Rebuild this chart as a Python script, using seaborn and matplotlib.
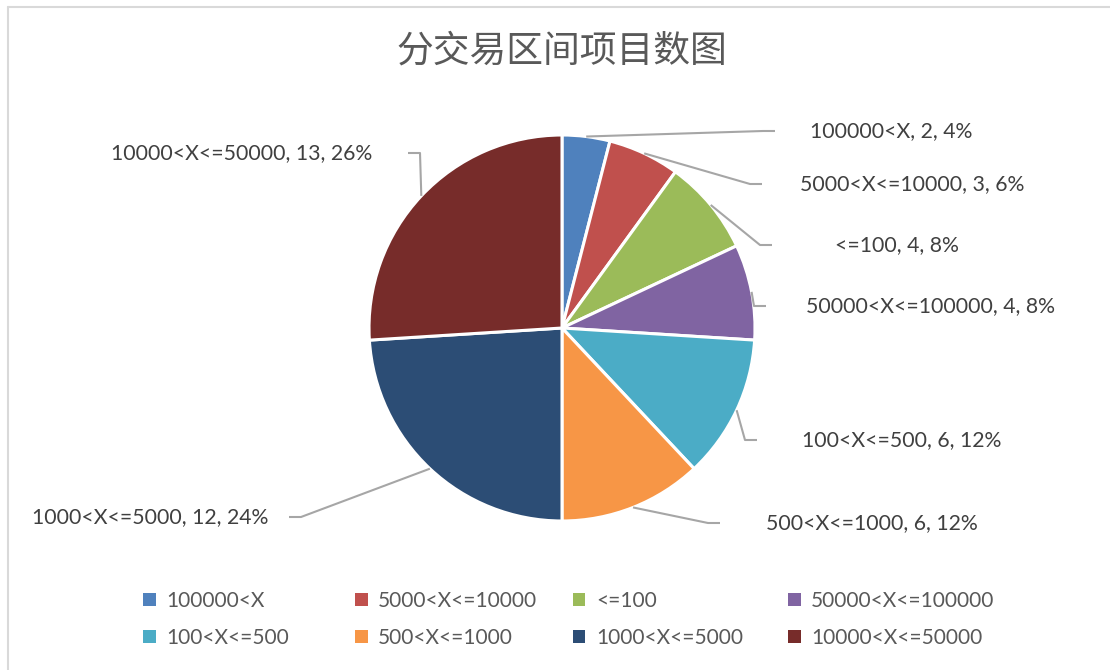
import matplotlib.pyplot as plt
import seaborn as sns
import numpy as np
from matplotlib.patches import Patch
from matplotlib.lines import Line2D

sns.set_theme(style="white")
plt.rcParams['font.family'] = ['Lato', 'Noto Sans CJK SC', 'DejaVu Sans']

# 데이터
categories = ['100000<X', '5000<X<=10000', '<=100', '50000<X<=100000',
              '100<X<=500', '500<X<=1000', '1000<X<=5000', '10000<X<=50000']
counts = [2, 3, 4, 4, 6, 6, 12, 13]
colors = ['#4F81BD', '#C0504D', '#9BBB59', '#8064A2',
          '#4BACC6', '#F79646', '#2C4D75', '#772C2A']
title = '分交易区间项目数图'

W, H = 1110, 670
def py(y):
    return H - y

# 라벨 위치 (픽셀 기준): 텍스트 x, y, 정렬, 지시선 끝 x
label_pos = [(810, 131, 'left', 775), (800, 184, 'left', 762),
             (835, 245, 'left', 772), (806, 306, 'left', 766),
             (802, 440, 'left', 757), (766, 523, 'left', 720),
             (268, 517, 'right', 289), (372, 153, 'right', 408)]

fig = plt.figure(figsize=(W / 100, H / 100), dpi=100)
ax = fig.add_axes([0, 0, 1, 1])
ax.set_aspect('equal')
ax.axis('off')

cx, cy, r = 562, py(328), 193
wedges, _ = ax.pie(counts, colors=colors, startangle=90, counterclock=False,
                   center=(cx, cy), radius=r,
                   wedgeprops=dict(edgecolor='white', linewidth=2.2))
ax.set_xlim(0, W)
ax.set_ylim(0, H)

total = sum(counts)
for w, cat, n, (tx, ty, ha, lx) in zip(wedges, categories, counts, label_pos):
    mid = np.deg2rad((w.theta1 + w.theta2) / 2)
    x0 = cx + r * np.cos(mid)
    y0 = cy + r * np.sin(mid)
    ex = lx - 12 if ha == 'left' else lx + 12
    ax.plot([x0, ex, lx], [y0, py(ty), py(ty)], color='#A6A6A6', lw=1.5,
            solid_capstyle='butt')
    pct = round(n / total * 100)
    ax.text(tx, py(ty), f'{cat}, {n}, {pct}%', ha=ha, va='center',
            fontsize=15.3, color='#404040')

# 제목
ax.text(562, py(51), title, ha='center', va='center', fontsize=26.5,
        color='#595959', family=['Noto Sans CJK SC'], fontweight='light')

# 범례 (열별로 따로 배치)
col_x = [143, 355, 573, 788]
for j in range(4):
    idx = [j, j + 4]
    handles = [Patch(facecolor=colors[i], edgecolor='none') for i in idx]
    leg = fig.legend(handles, [categories[i] for i in idx],
                     loc='upper left', bbox_to_anchor=(col_x[j] / W, 1 - 591 / H),
                     frameon=False, fontsize=15, handlelength=0.6,
                     handleheight=0.6, handletextpad=0.5, labelspacing=0.8,
                     borderpad=0, borderaxespad=0)
    for t in leg.get_texts():
        t.set_color('#595959')

# 테두리
fig.add_artist(Line2D([8 / W, 1], [1 - 7 / H, 1 - 7 / H], color='#D9D9D9', lw=1.5))
fig.add_artist(Line2D([8 / W, 8 / W], [0, 1 - 7 / H], color='#D9D9D9', lw=1.5))

fig.savefig('out.png', dpi=100)
